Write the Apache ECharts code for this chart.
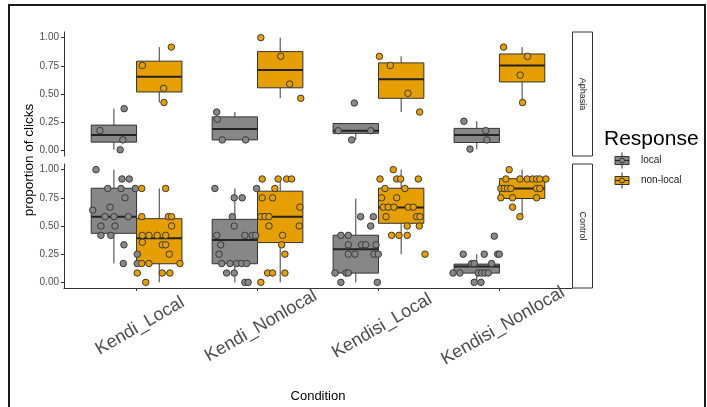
<!DOCTYPE html>
<html>
<head>
<meta charset="utf-8">
<script src="https://cdn.jsdelivr.net/npm/echarts@6/dist/echarts.min.js"></script>
<style>
html, body { margin: 0; padding: 0; background: #fff; }
#chart { width: 707px; height: 407px; }
</style>
</head>
<body>
<div id="chart"></div>
<script>
// categories / facets
var conditions = ['Kendi_Local', 'Kendi_Nonlocal', 'Kendisi_Local', 'Kendisi_Nonlocal'];
var panels = ['Aphasia', 'Control'];
var responses = ['local', 'non-local'];
var yTicks = [0, 0.25, 0.5, 0.75, 1];

// box stats per condition: [min, q1, median, q3, max]
var aphLocalBox = [
  [0.005, 0.073, 0.137, 0.224, 0.37],
  [0.093, 0.093, 0.189, 0.297, 0.34],
  [0.093, 0.151, 0.174, 0.238, 0.238],
  [0.011, 0.07, 0.136, 0.195, 0.258]
];
var aphNonlocalBox = [
  [0.425, 0.518, 0.652, 0.791, 0.916],
  [0.462, 0.555, 0.713, 0.876, 1.0],
  [0.34, 0.462, 0.631, 0.776, 0.834],
  [0.424, 0.607, 0.753, 0.855, 0.916]
];
var ctlLocalBox = [
  [0.167, 0.435, 0.582, 0.835, 1.0],
  [0.0, 0.165, 0.376, 0.559, 0.833],
  [0.0, 0.082, 0.294, 0.418, 0.744],
  [0.0, 0.082, 0.14, 0.162, 0.25]
];
var ctlNonlocalBox = [
  [0.0, 0.165, 0.391, 0.565, 0.833],
  [0.0, 0.353, 0.582, 0.809, 0.917],
  [0.25, 0.524, 0.665, 0.835, 1.0],
  [0.583, 0.744, 0.833, 0.92, 1.0]
];

// individual proportions
var aphLocalVals = [
  [0.37, 0.175, 0.093, 0.005],
  [0.34, 0.276, 0.093, 0.093],
  [0.42, 0.174, 0.093, 0.174],
  [0.258, 0.175, 0.093, 0.011]
];
var aphNonlocalVals = [
  [0.916, 0.753, 0.55, 0.425],
  [1.0, 0.835, 0.588, 0.462],
  [0.834, 0.753, 0.506, 0.34],
  [0.916, 0.834, 0.668, 0.424]
];
var ctlLocalVals = [
  [1.0, 0.917, 0.917, 0.833, 0.833, 0.833, 0.75, 0.64, 0.667, 0.583, 0.583, 0.583, 0.5, 0.5, 0.417, 0.417, 0.333, 0.25, 0.167, 0.167],
  [0.833, 0.75, 0.75, 0.833, 0.583, 0.5, 0.417, 0.417, 0.417, 0.417, 0.333, 0.25, 0.167, 0.167, 0.167, 0.167, 0.167, 0.083, 0.083, 0.0, 0.0],
  [0.583, 0.583, 0.5, 0.417, 0.417, 0.333, 0.333, 0.333, 0.333, 0.25, 0.25, 0.25, 0.25, 0.083, 0.083, 0.083, 0.0, 0.0],
  [0.41, 0.25, 0.25, 0.25, 0.25, 0.167, 0.167, 0.167, 0.083, 0.083, 0.083, 0.083, 0.083, 0.083, 0.0, 0.0]
];
var ctlNonlocalVals = [
  [0.833, 0.833, 0.583, 0.583, 0.583, 0.5, 0.417, 0.417, 0.417, 0.417, 0.356, 0.333, 0.333, 0.25, 0.167, 0.167, 0.167, 0.083, 0.083, 0.083, 0.0],
  [0.917, 0.917, 0.917, 0.917, 0.833, 0.75, 0.75, 0.667, 0.583, 0.583, 0.583, 0.5, 0.5, 0.417, 0.333, 0.25, 0.083, 0.083, 0.083, 0.0],
  [1.0, 0.917, 0.917, 0.917, 0.917, 0.833, 0.833, 0.75, 0.75, 0.667, 0.667, 0.667, 0.667, 0.667, 0.583, 0.583, 0.583, 0.5, 0.5, 0.417, 0.417, 0.417, 0.25],
  [1.0, 0.917, 0.917, 0.917, 0.917, 0.917, 0.917, 0.917, 0.833, 0.833, 0.833, 0.833, 0.833, 0.833, 0.75, 0.75, 0.75, 0.667, 0.583]
];

// horizontal jitter of each dot (category units)
var aphLocalJit = [
  [0.085, -0.116, 0.074, 0.052],
  [-0.15, -0.145, -0.104, 0.089],
  [-0.012, -0.145, -0.034, 0.123],
  [-0.106, 0.074, 0.084, -0.056]
];
var aphNonlocalJit = [
  [0.10, -0.14, 0.036, 0.039],
  [-0.16, 0.004, 0.078, 0.17],
  [-0.18, -0.09, 0.056, 0.153],
  [-0.153, 0.045, -0.016, 0.004]
];
var ctlLocalJit = [
  [-0.148, 0.067, 0.127, -0.051, 0.059, 0.177, 0.092, -0.175, -0.032, -0.074, 0.001, 0.119, -0.107, 0.009, -0.107, -0.026, 0.083, 0.193, 0.078, 0.193],
  [-0.165, -0.005, 0.061, 0.18, -0.021, -0.005, -0.15, 0.083, 0.144, 0.172, -0.117, -0.131, -0.109, -0.04, 0.015, 0.056, 0.098, -0.068, -0.005, 0.083, 0.11],
  [0.04, 0.145, 0.123, -0.123, -0.062, -0.062, 0.048, 0.082, 0.167, -0.062, -0.007, 0.15, 0.186, -0.172, -0.081, -0.062, -0.123, 0.178],
  [0.145, -0.112, 0.062, 0.173, 0.186, -0.042, -0.021, 0.123, -0.196, -0.14, 0.012, 0.04, 0.068, 0.095, -0.021, 0.035]
];
var ctlNonlocalJit = [
  [-0.145, 0.053, -0.145, 0.075, 0.102, 0.102, -0.14, -0.085, -0.017, 0.053, -0.14, 0.025, 0.053, 0.083, -0.145, -0.085, 0.171, -0.182, 0.025, 0.088, -0.112],
  [-0.149, -0.017, 0.053, 0.094, -0.044, -0.149, -0.063, 0.163, -0.16, -0.126, -0.093, -0.093, 0.157, 0.02, 0.012, 0.039, -0.104, -0.063, 0.039, -0.16],
  [-0.065, -0.175, -0.037, -0.004, 0.142, -0.134, 0.031, -0.162, -0.037, -0.148, -0.107, -0.06, 0.059, 0.1, -0.125, 0.128, 0.155, 0.05, 0.15, -0.079, -0.018, 0.05, 0.197],
  [-0.107, -0.134, -0.018, 0.042, 0.087, 0.12, 0.146, 0.197, -0.176, -0.148, -0.12, -0.093, 0.12, 0.146, -0.176, -0.079, 0.12, -0.079, -0.018]
];

var FONT = '"Liberation Sans", Arial, Helvetica, sans-serif';
var GRAY = '#878787';
var ORANGE = '#e69f00';
var HALF = 0.1875; // half of the dodge width

var chart = echarts.init(document.getElementById('chart'));

function boxSeries(gi, boxes, dodge, color) {
  return {
    type: 'custom',
    xAxisIndex: gi,
    yAxisIndex: gi,
    z: 2,
    silent: true,
    data: boxes.map(function (b, i) { return [i + 1].concat(b); }),
    encode: { x: 0, y: [1, 2, 3, 4, 5] },
    renderItem: function (params, api) {
      var c = api.value(0) + dodge;
      var hw = api.size([HALF, 0])[0];
      var x = api.coord([c, 0])[0];
      var yMin = api.coord([c, api.value(1)])[1];
      var yQ1 = api.coord([c, api.value(2)])[1];
      var yMed = api.coord([c, api.value(3)])[1];
      var yQ3 = api.coord([c, api.value(4)])[1];
      var yMax = api.coord([c, api.value(5)])[1];
      var ws = { stroke: '#3a3a3a', lineWidth: 1 };
      return {
        type: 'group',
        children: [
          { type: 'line', shape: { x1: x, y1: yMax, x2: x, y2: yQ3 }, style: ws },
          { type: 'line', shape: { x1: x, y1: yQ1, x2: x, y2: yMin }, style: ws },
          { type: 'rect', shape: { x: x - hw, y: yQ3, width: 2 * hw, height: yQ1 - yQ3 },
            style: { fill: color, stroke: '#333', lineWidth: 1 } },
          { type: 'line', shape: { x1: x - hw, y1: yMed, x2: x + hw, y2: yMed },
            style: { stroke: '#222', lineWidth: 2 } }
        ]
      };
    }
  };
}

function dotSeries(gi, vals, jit, dodge, color) {
  var data = [];
  vals.forEach(function (row, i) {
    row.forEach(function (v, j) {
      data.push([i + 1 + dodge + jit[i][j], v]);
    });
  });
  return {
    type: 'scatter',
    xAxisIndex: gi,
    yAxisIndex: gi,
    z: 3,
    silent: true,
    symbol: 'circle',
    symbolSize: 6.5,
    itemStyle: { color: color, borderColor: '#3a3a3a', borderWidth: 1, opacity: 1 },
    data: data
  };
}

function yAxis(gi) {
  return {
    type: 'value',
    gridIndex: gi,
    min: -0.05,
    max: 1.05,
    axisLine: { show: true, onZero: false, lineStyle: { color: '#333', width: 1 } },
    axisTick: { show: true, length: 3, customValues: yTicks, lineStyle: { color: '#333' } },
    axisLabel: {
      customValues: yTicks,
      formatter: function (v) { return v.toFixed(2); },
      fontSize: 10, color: '#4d4d4d', margin: 5, fontFamily: FONT
    },
    splitLine: { show: false }
  };
}

var option = {
  backgroundColor: '#fff',
  animation: false,
  grid: [
    { left: 64, top: 32, width: 508, height: 124, outerBoundsMode: 'none' },
    { left: 64, top: 164, width: 508, height: 124, outerBoundsMode: 'none' }
  ],
  xAxis: [
    {
      type: 'value', gridIndex: 0, min: 0.4, max: 4.6,
      axisLine: { show: false, onZero: false },
      axisTick: { show: false }, axisLabel: { show: false }, splitLine: { show: false }
    },
    {
      type: 'value', gridIndex: 1, min: 0.4, max: 4.6,
      name: 'Condition', nameLocation: 'middle', nameGap: 102,
      nameTextStyle: { fontSize: 13, color: '#000', fontFamily: FONT },
      axisLine: { show: true, onZero: false, lineStyle: { color: '#333', width: 1 } },
      axisTick: { show: true, length: 3, customValues: [1, 2, 3, 4], lineStyle: { color: '#333' } },
      axisLabel: {
        customValues: [1, 2, 3, 4],
        formatter: function (v) { return conditions[Math.round(v) - 1]; },
        rotate: 30, align: 'center', verticalAlign: 'middle', margin: 40,
        padding: [6, 0, 0, 8],
        fontSize: 18, color: '#4d4d4d', fontFamily: FONT
      },
      splitLine: { show: false }
    }
  ],
  yAxis: [yAxis(0), yAxis(1)],
  series: [
    boxSeries(0, aphLocalBox, -HALF, GRAY),
    boxSeries(0, aphNonlocalBox, HALF, ORANGE),
    boxSeries(1, ctlLocalBox, -HALF, GRAY),
    boxSeries(1, ctlNonlocalBox, HALF, ORANGE),
    dotSeries(0, aphLocalVals, aphLocalJit, -HALF, GRAY),
    dotSeries(0, aphNonlocalVals, aphNonlocalJit, HALF, ORANGE),
    dotSeries(1, ctlLocalVals, ctlLocalJit, -HALF, GRAY),
    dotSeries(1, ctlNonlocalVals, ctlNonlocalJit, HALF, ORANGE)
  ],
  graphic: [
    // outer frame of the slide
    { type: 'rect', silent: true, shape: { x: 9, y: 5, width: 696, height: 420 },
      style: { fill: 'none', stroke: '#1a1a1a', lineWidth: 2 } },
    // facet strips
    { type: 'rect', silent: true, shape: { x: 572.5, y: 32, width: 20, height: 124 },
      style: { fill: '#fff', stroke: '#333', lineWidth: 1 } },
    { type: 'text', silent: true, x: 582.5, y: 94, rotation: -Math.PI / 2,
      style: { text: panels[0], align: 'center', verticalAlign: 'middle', fontSize: 9, fill: '#1a1a1a', fontFamily: FONT } },
    { type: 'rect', silent: true, shape: { x: 572.5, y: 164, width: 20, height: 124 },
      style: { fill: '#fff', stroke: '#333', lineWidth: 1 } },
    { type: 'text', silent: true, x: 582.5, y: 226, rotation: -Math.PI / 2,
      style: { text: panels[1], align: 'center', verticalAlign: 'middle', fontSize: 9, fill: '#1a1a1a', fontFamily: FONT } },
    // y axis title
    { type: 'text', silent: true, x: 29, y: 160, rotation: Math.PI / 2,
      style: { text: 'proportion of clicks', align: 'center', verticalAlign: 'middle', fontSize: 13.5, fill: '#000', fontFamily: FONT } },
    // legend
    { type: 'text', silent: true, x: 604, y: 139,
      style: { text: 'Response', align: 'left', verticalAlign: 'middle', fontSize: 21, fill: '#000', fontFamily: FONT } },
    { type: 'group', silent: true, x: 622, y: 160.5, children: [
      { type: 'line', shape: { x1: 0, y1: -8, x2: 0, y2: 8 }, style: { stroke: '#333', lineWidth: 1 } },
      { type: 'rect', shape: { x: -7, y: -4, width: 14, height: 8 }, style: { fill: GRAY, stroke: '#333', lineWidth: 1 } },
      { type: 'line', shape: { x1: -7, y1: 0, x2: 7, y2: 0 }, style: { stroke: '#222', lineWidth: 1 } },
      { type: 'circle', shape: { cx: 0, cy: 0, r: 2.5 }, style: { fill: GRAY, stroke: '#333', lineWidth: 1 } }
    ] },
    { type: 'text', silent: true, x: 641, y: 160.5,
      style: { text: responses[0], align: 'left', verticalAlign: 'middle', fontSize: 10, fill: '#222', fontFamily: FONT } },
    { type: 'group', silent: true, x: 622, y: 180.5, children: [
      { type: 'line', shape: { x1: 0, y1: -8, x2: 0, y2: 8 }, style: { stroke: '#333', lineWidth: 1 } },
      { type: 'rect', shape: { x: -7, y: -4, width: 14, height: 8 }, style: { fill: ORANGE, stroke: '#333', lineWidth: 1 } },
      { type: 'line', shape: { x1: -7, y1: 0, x2: 7, y2: 0 }, style: { stroke: '#222', lineWidth: 1 } },
      { type: 'circle', shape: { cx: 0, cy: 0, r: 2.5 }, style: { fill: ORANGE, stroke: '#333', lineWidth: 1 } }
    ] },
    { type: 'text', silent: true, x: 641, y: 180.5,
      style: { text: responses[1], align: 'left', verticalAlign: 'middle', fontSize: 10, fill: '#222', fontFamily: FONT } }
  ]
};

chart.setOption(option);
window.addEventListener('resize', function () { chart.resize(); });
</script>
</body>
</html>
